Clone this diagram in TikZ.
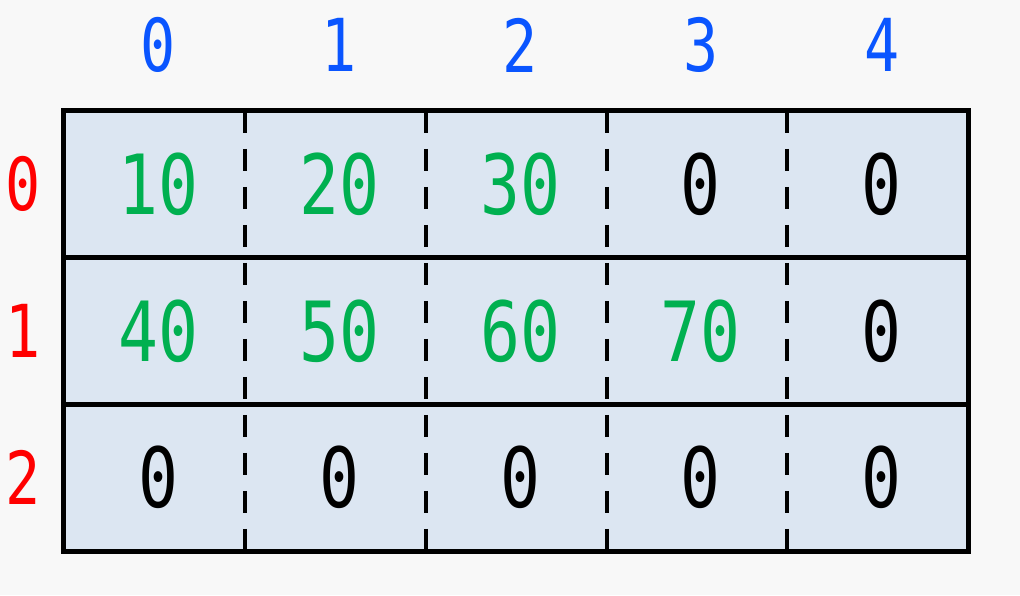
\documentclass[tikz,border=0pt]{standalone}
\usepackage{fontspec}
\newfontfamily\gridfont[FakeStretch=0.8]{DejaVu Sans Mono}
\definecolor{pagegray}{HTML}{F8F8F8}
\definecolor{cellblue}{HTML}{DCE6F2}
\definecolor{colblue}{HTML}{0A55FF}
\definecolor{rowred}{HTML}{FF0000}
\definecolor{valgreen}{HTML}{00B050}
\tikzset{
    cell/.style={minimum width=180.8pt, minimum height=146.67pt, inner sep=0pt,
        font=\gridfont\fontsize{83}{90}\selectfont},
    idx/.style={inner sep=0pt, font=\gridfont\fontsize{73}{80}\selectfont},
    border/.style={line width=5pt},
    colsep/.style={line width=4pt, dash pattern=on 22pt off 16pt}
}
\begin{document}
\begin{tikzpicture}[x=1pt, y=-1pt]
    \fill[pagegray] (0,0) rectangle (1020,595);
    \useasboundingbox (0,0) rectangle (1020,595);
    \fill[cellblue] (64,111) rectangle (968,551);
    % cells
    \foreach \r/\vals in {0/{10,20,30,0,0}, 1/{40,50,60,70,0}, 2/{0,0,0,0,0}} {
        \foreach \v [count=\c from 0] in \vals {
            \ifnum\v=0 \def\vcol{black}\else \def\vcol{valgreen}\fi
            \node[cell, text=\vcol] (c-\r-\c) at ({64+180.8*(\c+0.5)}, {111+146.67*(\r+0.5)}) {\hspace*{8pt}\v};
        }
    }
    % column and row indices
    \foreach \c in {0,...,4}
        \node[idx, text=colblue] (col-\c) at ({68+180.8*(\c+0.5)}, 45) {\c};
    \foreach \r in {0,...,2}
        \node[idx, text=rowred] (row-\r) at (23, {111+146.67*(\r+0.5)}) {\r};
    % grid lines
    \foreach \c in {0,...,3}
        \draw[colsep] (c-0-\c.north east) -- (c-2-\c.south east);
    \foreach \r in {0,1}
        \draw[border] (c-\r-0.south west) -- (c-\r-4.south east);
    \draw[border] (c-0-0.north west) rectangle (c-2-4.south east);
\end{tikzpicture}
\end{document}
